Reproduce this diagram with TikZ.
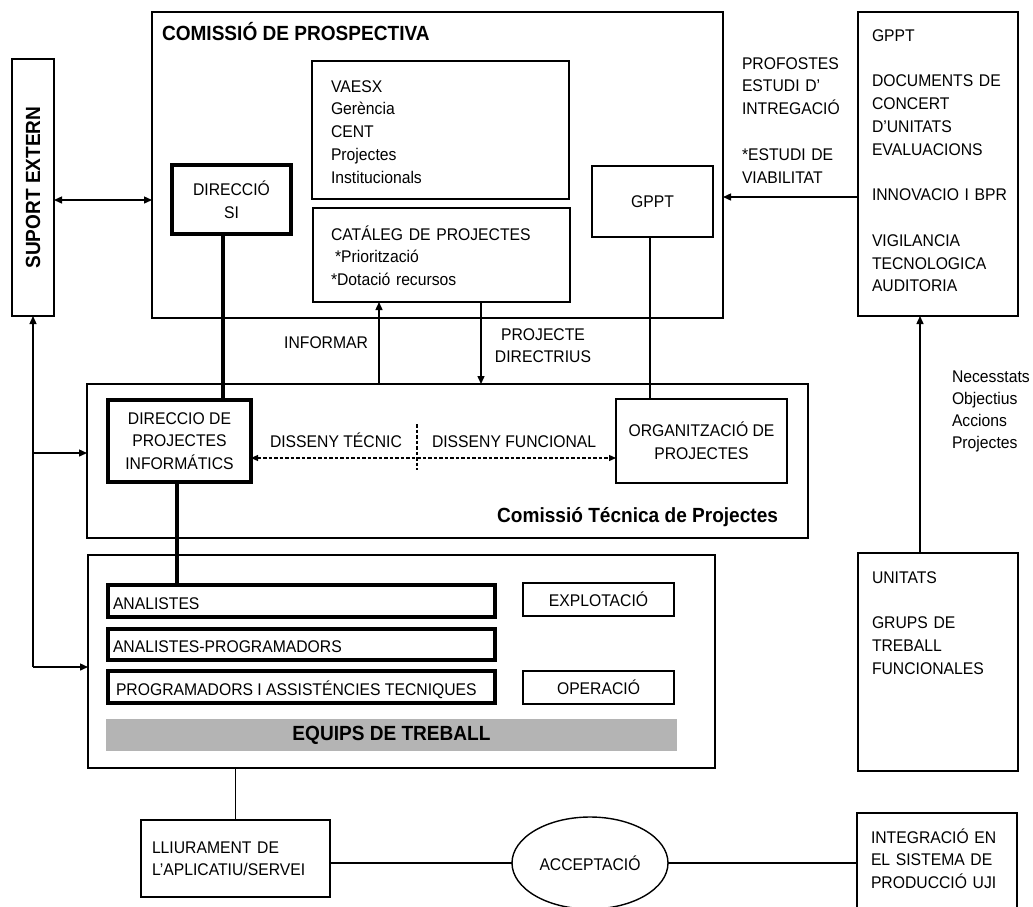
\documentclass[tikz,border=0pt]{standalone}
\usepackage{fontspec}
\setmainfont{Liberation Sans}[FakeStretch=0.93]
\usetikzlibrary{arrows.meta,shapes.geometric,calc}
\definecolor{bargray}{RGB}{180,180,180}

\begin{document}
\begin{tikzpicture}[x=1pt,y=-1pt,
  txt/.style={inner sep=0pt, outer sep=0pt, font=\fontsize{16.9}{22.8}\selectfont},
  ttl/.style={inner sep=0pt, outer sep=0pt, font=\fontsize{20.5}{23}\selectfont\bfseries},
  box/.style={txt, draw, line width=1.4pt, anchor=north west, align=center},
  heavy/.style={box, line width=4pt},
  para/.style={txt, anchor=base west, text width=#1, align=left},
  para/.default=200pt,
  link/.style={line width=1.4pt},
  tip/.style={link, -{Triangle[length=8pt,width=7pt]}},
  twotip/.style={link, {Triangle[length=8pt,width=7pt]}-{Triangle[length=8pt,width=7pt]}},
  dashlink/.style={line width=1.2pt, dash pattern=on 3.5pt off 2pt},
  boldlink/.style={line width=4pt}
]
\useasboundingbox (0,0) rectangle (1033,906);

% ---------- external support ----------
\node[box, minimum width=42pt, minimum height=257pt] (suport) at (12,59) {};
\node[ttl, rotate=90] (suportT) at (suport.center) {SUPORT EXTERN};

% ---------- prospective commission ----------
\node[box, minimum width=571pt, minimum height=306pt] (cprosp) at (152,12) {};
\node[ttl, anchor=base west] (cprospT) at (162,40) {COMISSIÓ DE PROSPECTIVA};

\node[box, minimum width=257pt, minimum height=138pt] (vaesx) at (312,61) {};
\node[para] (vaesxT) at (331,92) {VAESX\\Gerència\\CENT\\Projectes\\Institucionals};

\node[box, minimum width=257pt, minimum height=94pt] (catal) at (313,208) {};
\node[para] (catalT) at (331,240) {CATÁLEG DE PROJECTES\\\hspace*{4pt}*Priorització\\{}*Dotació recursos};

\node[box, minimum width=121pt, minimum height=71pt] (gppt) at (592,166) {GPPT};

\node[heavy, minimum width=119pt, minimum height=69pt] (dsi) at (172,165) {DIRECCIÓ\\SI};

% ---------- right column ----------
\node[box, minimum width=160pt, minimum height=304pt] (rbox) at (858,12) {};
\node[para] (rboxT) at (872,41) {GPPT\\[22.8pt]DOCUMENTS DE\\CONCERT\\D’UNITATS\\EVALUACIONS\\[22.8pt]INNOVACIO I BPR\\[22.8pt]VIGILANCIA\\TECNOLOGICA\\AUDITORIA};

\node[para] (profT) at (742,69) {PROFOSTES\\ESTUDI D’\\INTREGACIÓ\\[22.8pt]{}*ESTUDI DE\\VIABILITAT};

\node[box, minimum width=160pt, minimum height=218pt] (unitats) at (858,553) {};
\node[para] (unitatsT) at (872,583) {UNITATS\\[22.8pt]GRUPS DE\\TREBALL\\FUNCIONALES};

\node[txt, anchor=base west, text width=90pt, align=left, font=\fontsize{16.9}{22}\selectfont] (necT) at (952,382) {Necesstats\\Objectius\\Accions\\Projectes};

% ---------- technical commission ----------
\node[box, minimum width=721pt, minimum height=154pt] (ctp) at (87,384) {};
\node[ttl, anchor=base east] (ctpT) at (778,522) {Comissió Técnica de Projectes};

\node[heavy, minimum width=143pt, minimum height=82pt] (dpi) at (108,400) {DIRECCIO DE\\PROJECTES\\INFORMÁTICS};
\node[box, minimum width=171pt, minimum height=84pt] (org) at (616,399) {ORGANITZACIÓ DE\\PROJECTES};

\node[txt, anchor=base west] (dtec) at (270,447) {DISSENY TÉCNIC};
\node[txt, anchor=base west] (dfun) at (432,447) {DISSENY FUNCIONAL};

\node[txt, anchor=base east] (infT) at (368,348) {INFORMAR};
\node[txt, anchor=base, text width=140pt, align=center] (projT) at (543,340) {PROJECTE\\DIRECTRIUS};

% ---------- work teams ----------
\node[box, minimum width=627pt, minimum height=213pt] (equips) at (88,555) {};
\node[heavy, minimum width=387pt, minimum height=32pt] (anal) at (108,585) {};
\node[txt, anchor=base west] (analT) at (113,609) {ANALISTES};
\node[heavy, minimum width=387pt, minimum height=31pt] (analprog) at (108,629) {};
\node[txt, anchor=base west] (analprogT) at (113,652) {ANALISTES-PROGRAMADORS};
\node[heavy, minimum width=387pt, minimum height=32pt] (prog) at (108,671) {};
\node[txt, anchor=base west] (progT) at (116,695) {PROGRAMADORS I ASSISTÉNCIES TECNIQUES};

\node[box, minimum width=151pt, minimum height=33pt] (explot) at (523,583) {EXPLOTACIÓ};
\node[box, minimum width=151pt, minimum height=33pt] (oper) at (523,671) {OPERACIÓ};

\node[txt, fill=bargray, anchor=north west, minimum width=571pt, minimum height=32pt] (bar) at (106,719) {};
\node[ttl] (barT) at (bar.center) {EQUIPS DE TREBALL};

% ---------- delivery chain ----------
\node[box, minimum width=189pt, minimum height=77pt] (lliur) at (141,820) {};
\node[para] (lliurT) at (152,853) {LLIURAMENT DE\\L’APLICATIU/SERVEI};

\node[txt, draw, line width=1.4pt, ellipse, minimum width=156pt, minimum height=92pt] (accept) at (590,863) {ACCEPTACIÓ};

\node[box, minimum width=160pt, minimum height=120pt] (integ) at (857,813) {};
\node[para] (integT) at (871,843) {INTEGRACIÓ EN\\EL SISTEMA DE\\PRODUCCIÓ UJI};

% ---------- helper coordinates ----------
\coordinate (yA) at (0,200);
\coordinate (yB) at (0,197);
\coordinate (yC) at (0,458);
\coordinate (yD) at (0,453);
\coordinate (xA) at (223,0);
\coordinate (xB) at (177,0);
\coordinate (xC) at (379,0);
\coordinate (xD) at (481,0);
\coordinate (xE) at (650,0);
\coordinate (xF) at (920,0);
\coordinate (div1) at (417,424);
\coordinate (div2) at (417,470);
\coordinate (corner) at (33,667);

% ---------- connectors ----------
\draw[twotip] (suport.east |- yA) -- (cprosp.west |- yA);
\draw[tip] (rbox.west |- yB) -- (cprosp.east |- yB);
\draw[tip] (unitats.north -| xF) -- (rbox.south -| xF);

\draw[boldlink] (dsi.south -| xA) -- (dpi.north -| xA);
\draw[boldlink] (dpi.south -| xB) -- (anal.north -| xB);

\draw[tip] (ctp.north -| xC) -- (catal.south -| xC);
\draw[tip] (catal.south -| xD) -- (ctp.north -| xD);
\draw[link] (gppt.south -| xE) -- (org.north -| xE);

\draw[dashlink, {Triangle[length=7pt,width=6pt]}-{Triangle[length=7pt,width=6pt]}] (dpi.east |- yC) -- (org.west |- yC);
\draw[dashlink] (div1) -- (div2);

\draw[tip] (corner) -- (suport.south);
\draw[tip] (corner |- yD) -- (ctp.west |- yD);
\draw[tip] (corner) -- (equips.west |- corner);

\draw[link] (equips.south -| lliur.north) -- (lliur.north);
\draw[link] (lliur.east |- accept.west) -- (accept.west);
\draw[link] (accept.east) -- (integ.west |- accept.east);

\end{tikzpicture}
\end{document}
